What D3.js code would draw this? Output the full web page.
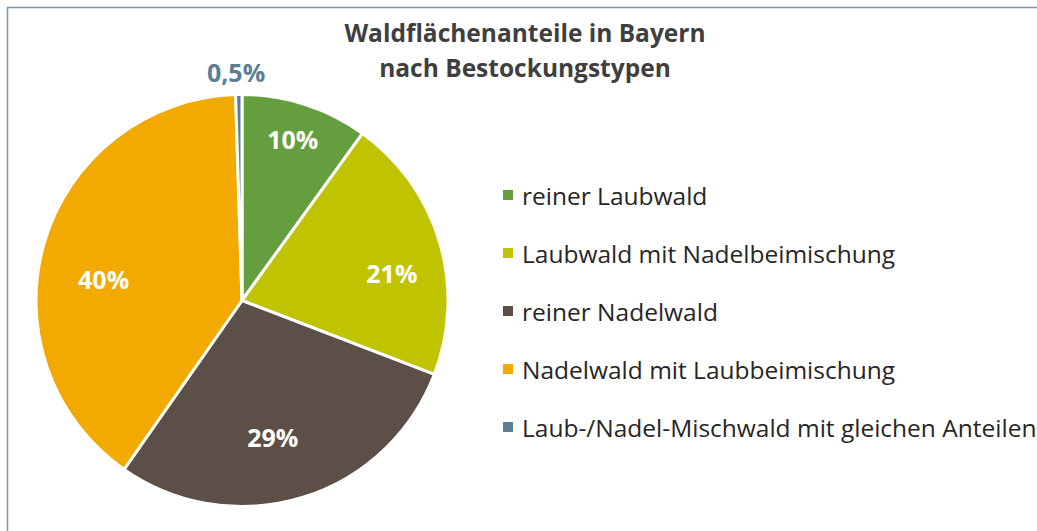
<!DOCTYPE html>
<html><head><meta charset="utf-8">
<script src="https://cdn.jsdelivr.net/npm/d3@7"></script>
<style>body{margin:0;background:#fff}svg{display:block}</style>
</head><body>
<svg id="c" width="1037" height="531"></svg>
<script>
const categories = ["reiner Laubwald","Laubwald mit Nadelbeimischung","reiner Nadelwald","Nadelwald mit Laubbeimischung","Laub-/Nadel-Mischwald mit gleichen Anteilen"];
const values = [10, 21, 29, 40, 0.5];
const labels = ["10%","21%","29%","40%","0,5%"];
const colors = ["#659e3f","#bfc300","#5b4f47","#f2aa00","#5a7e96"];
const title = ["Waldflächenanteile in Bayern","nach Bestockungstypen"];

const svg = d3.select("#c");
const font = "'Open Sans', 'Noto Sans', sans-serif";
// frame
svg.append("path").attr("d","M7.5,531 L7.5,7.5 L1037,7.5").attr("fill","none").attr("stroke","#7b98a8").attr("stroke-width",1.5);

const cx = 242, cy = 300.5, r = 206;
const pie = d3.pie().sort(null).value(d=>d);
const arcs = pie(values);
const arc = d3.arc().innerRadius(0).outerRadius(r);
const g = svg.append("g").attr("transform",`translate(${cx},${cy})`);
g.selectAll("path").data(arcs).join("path")
  .attr("d",arc).attr("fill",(d,i)=>colors[i])
  .attr("stroke","#fff").attr("stroke-width",3).attr("stroke-linejoin","round");

// label placement: radius factor and angle nudge (degrees), outside label for the tiny slice
const lblR = [0.82, 0.74, 0.68, 0.68, 1.11];
const lblDA = [-0.4, 6, 4.3, -7.6, -0.6];
g.selectAll("text.l").data(arcs).join("text").attr("class","l")
  .attr("transform",(d,i)=>{
    const a = (d.startAngle + d.endAngle)/2 + lblDA[i]*Math.PI/180;
    const rr = r*lblR[i];
    return `translate(${rr*Math.sin(a)},${-rr*Math.cos(a)})`;
  })
  .attr("text-anchor","middle").attr("dominant-baseline","central")
  .attr("font-family",font).attr("font-weight","bold").attr("font-size",25)
  .attr("fill",(d,i)=> i===4 ? colors[4] : "#fff")
  .text((d,i)=>labels[i]);

svg.append("text").attr("x",525).attr("y",42).attr("text-anchor","middle")
  .attr("font-family",font).attr("font-weight","bold").attr("font-size",24.5).attr("fill","#3f3f3f")
  .selectAll("tspan").data(title).join("tspan").attr("x",525).attr("dy",(d,i)=>i?35:0).text(d=>d);

const lg = svg.append("g");
const ly = d3.scalePoint().domain(categories).range([195,427]);
categories.forEach((c,i)=>{
  lg.append("rect").attr("x",503).attr("y",ly(c)-5).attr("width",10).attr("height",10).attr("fill",colors[i]);
  lg.append("text").attr("x",522).attr("y",ly(c)).attr("dominant-baseline","central")
    .attr("font-family",font).attr("font-size",24.5).attr("fill","#262626").text(c);
});
</script>
</body></html>
